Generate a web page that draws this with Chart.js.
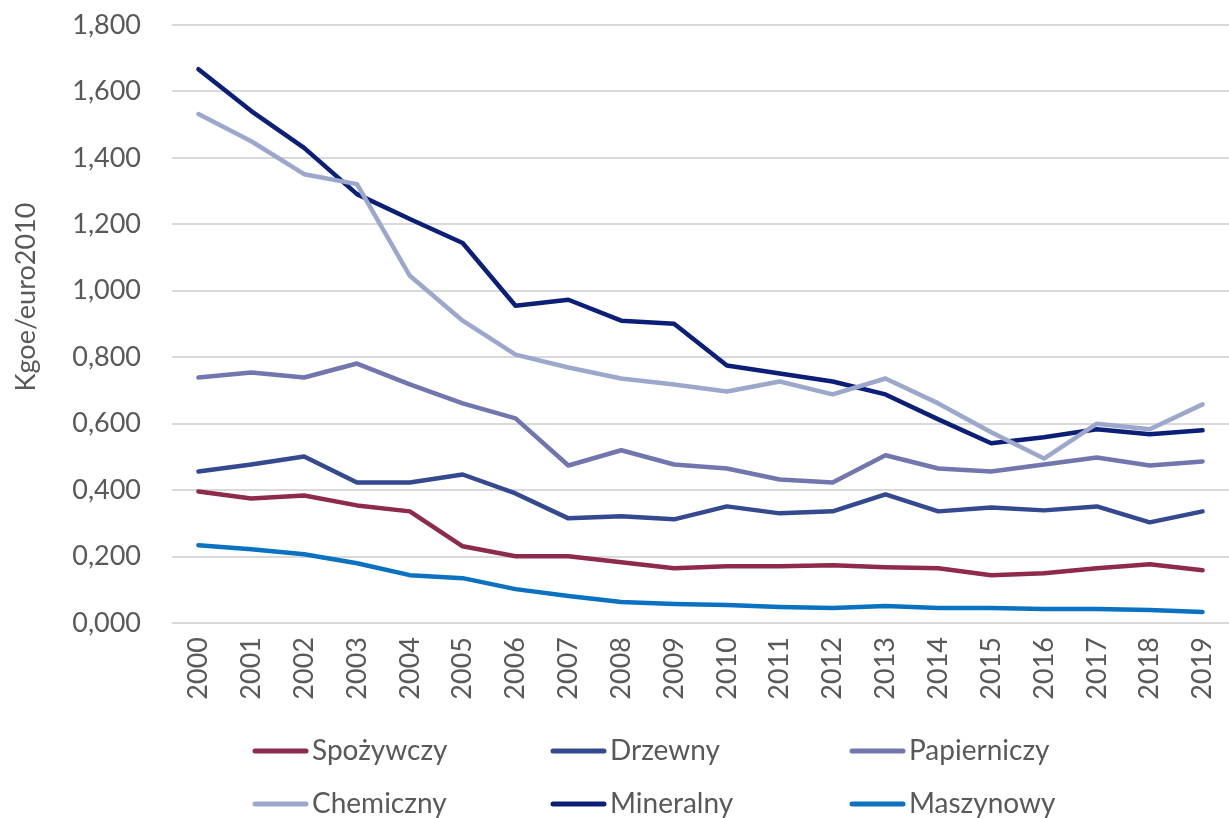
<!DOCTYPE html>
<html lang="pl">
<head>
	<meta charset="UTF-8"/>
	<title>Energochłonność przemysłu</title>
	<script src="https://cdn.jsdelivr.net/npm/chart.js"></script>
	<style>
		body {
			margin: 0;
			background: #ffffff;
		}
		#wrap {
			width: 1229px;
			height: 818px;
		}
	</style>
</head>
<body>
<div id="wrap">
	<canvas id="myChart" width="1229" height="818"></canvas>
</div>

<script>
	const years = ["2000", "2001", "2002", "2003", "2004", "2005", "2006", "2007", "2008", "2009",
		"2010", "2011", "2012", "2013", "2014", "2015", "2016", "2017", "2018", "2019"];

	const spozywczy = [0.396, 0.375, 0.384, 0.354, 0.336, 0.231, 0.201, 0.201, 0.183, 0.165,
		0.171, 0.171, 0.174, 0.168, 0.165, 0.144, 0.150, 0.165, 0.177, 0.159];
	const drzewny = [0.456, 0.477, 0.501, 0.423, 0.423, 0.447, 0.390, 0.315, 0.321, 0.312,
		0.351, 0.330, 0.336, 0.387, 0.336, 0.348, 0.339, 0.351, 0.303, 0.336];
	const papierniczy = [0.739, 0.754, 0.739, 0.781, 0.718, 0.661, 0.616, 0.474, 0.520, 0.477,
		0.465, 0.432, 0.423, 0.505, 0.465, 0.456, 0.477, 0.498, 0.474, 0.486];
	const chemiczny = [1.532, 1.450, 1.351, 1.321, 1.045, 0.910, 0.808, 0.769, 0.736, 0.718,
		0.697, 0.727, 0.688, 0.736, 0.661, 0.574, 0.495, 0.600, 0.583, 0.658];
	const mineralny = [1.667, 1.541, 1.430, 1.291, 1.216, 1.144, 0.955, 0.973, 0.910, 0.901,
		0.775, 0.751, 0.727, 0.688, 0.613, 0.541, 0.559, 0.583, 0.568, 0.580];
	const maszynowy = [0.234, 0.222, 0.207, 0.180, 0.144, 0.135, 0.102, 0.081, 0.063, 0.057,
		0.054, 0.048, 0.045, 0.051, 0.045, 0.045, 0.042, 0.042, 0.039, 0.033];

	const yMin = 0;
	const yMax = 1.8;
	const yStep = 0.2;
	const yTitle = "Kgoe/euro2010";

	const FONT = "Lato, 'Open Sans', sans-serif";
	const TEXT = "#595959";

	function serie(label, data, color) {
		return {
			label: label,
			data: data,
			borderColor: color,
			backgroundColor: color,
			borderWidth: 4.5,
			pointRadius: 0,
			tension: 0,
			borderCapStyle: "round",
			borderJoinStyle: "round"
		};
	}

	// legenda w 3 kolumnach + tytuł osi Y (trochę wyżej niż środek osi, jak w oryginale)
	const extras = {
		id: "extras",
		afterDraw(chart) {
			const ctx = chart.ctx;
			const cols = [253, 551, 850];
			const rows = [751, 804];
			ctx.save();
			ctx.font = "28px " + FONT;
			ctx.fillStyle = TEXT;
			ctx.textBaseline = "middle";
			chart.data.datasets.forEach((ds, i) => {
				const x = cols[i % 3];
				const y = rows[Math.floor(i / 3)];
				ctx.strokeStyle = ds.borderColor;
				ctx.lineWidth = 5;
				ctx.lineCap = "round";
				ctx.beginPath();
				ctx.moveTo(x + 2, y);
				ctx.lineTo(x + 53, y);
				ctx.stroke();
				ctx.fillText(ds.label, x + 59, y);
			});

			ctx.font = "27px " + FONT;
			ctx.textAlign = "center";
			ctx.translate(26, 297);
			ctx.rotate(-Math.PI / 2);
			ctx.fillText(yTitle, 0, 0);
			ctx.restore();
		}
	};

	const ctx = document.getElementById("myChart").getContext("2d");
	const myChart = new Chart(ctx, {
		type: "line",
		data: {
			labels: years,
			datasets: [
				serie("Spożywczy", spozywczy, "#8e2b4a"),
				serie("Drzewny", drzewny, "#34498f"),
				serie("Papierniczy", papierniczy, "#7177ae"),
				serie("Chemiczny", chemiczny, "#9ba8cb"),
				serie("Mineralny", mineralny, "#0c1f78"),
				serie("Maszynowy", maszynowy, "#0a72c0")
			]
		},
		options: {
			responsive: false,
			animation: false,
			layout: {
				padding: { top: 25, right: 0, bottom: 110, left: 0 }
			},
			plugins: {
				legend: { display: false },
				tooltip: { enabled: false }
			},
			scales: {
				x: {
					offset: true,
					grid: { display: false, drawTicks: false },
					border: { display: false },
					ticks: {
						color: TEXT,
						font: { family: FONT, size: 27 },
						maxRotation: 90,
						minRotation: 90,
						padding: 14,
						autoSkip: false
					},
					afterFit(scale) {
						scale.height = 85;
						scale.paddingLeft = 0;
						scale.paddingRight = 0;
					}
				},
				y: {
					min: yMin,
					max: yMax,
					grid: { color: "#d9d9d9", lineWidth: 2, drawTicks: false },
					border: { display: false },
					ticks: {
						stepSize: yStep,
						color: TEXT,
						font: { family: FONT, size: 27 },
						padding: 31,
						callback: v => v.toFixed(3).replace(".", ",")
					},
					afterFit(scale) {
						scale.width = 172;
						scale.paddingTop = 0;
						scale.paddingBottom = 0;
					}
				}
			}
		},
		plugins: [extras]
	});
</script>
</body>
</html>
